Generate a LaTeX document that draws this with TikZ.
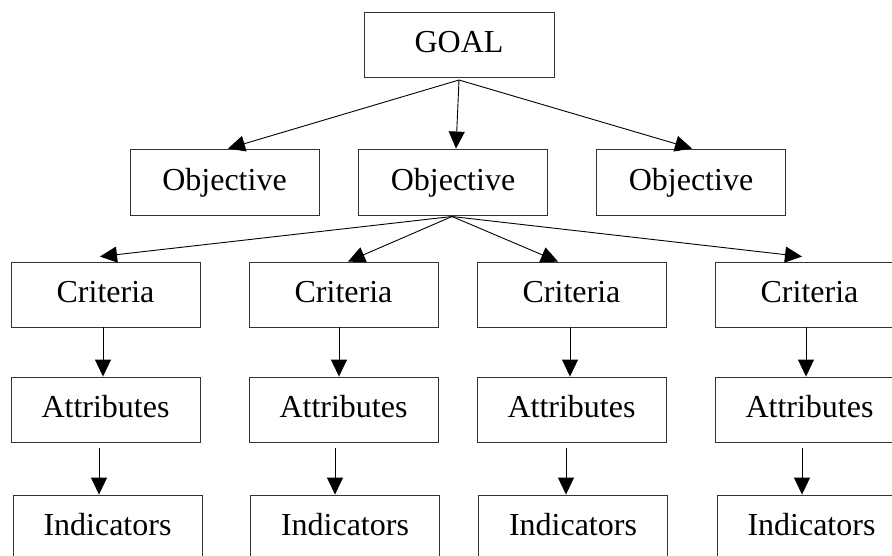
\documentclass[tikz,border=0pt]{standalone}
\usepackage{fontspec}
\setmainfont{Liberation Serif}
\usetikzlibrary{arrows.meta}
\begin{document}
\begin{tikzpicture}[x=1pt,y=-1pt,
  box/.style={draw=black!80, line width=0.9pt, inner sep=0pt, minimum width=189pt, minimum height=65pt,
    font=\fontsize{32}{36}\selectfont, text height=22pt, text depth=6pt},
  arr/.style={draw=black, line width=0.9pt, -{Triangle[length=17pt,width=16pt]}}]
\useasboundingbox (0,0) rectangle (892,555);
\clip (0,0) rectangle (892,555);
\fill[white] (0,0) rectangle (892,555);
% nodes
\node[box, minimum width=190pt] (goal) at (459,44.5) {GOAL};
\node[box, minimum height=66pt] (o1) at (224.5,182) {Objective};
\node[box, minimum height=66pt] (o2) at (453,182) {Objective};
\node[box, minimum height=66pt] (o3) at (691,182) {Objective};
\node[box] (c1) at (105.5,294.5) {Criteria};
\node[box] (c2) at (343.5,294.5) {Criteria};
\node[box] (c3) at (571.5,294.5) {Criteria};
\node[box] (c4) at (809.5,294.5) {Criteria};
\node[box] (a1) at (105.5,409.5) {Attributes};
\node[box] (a2) at (343.5,409.5) {Attributes};
\node[box] (a3) at (571.5,409.5) {Attributes};
\node[box] (a4) at (809.5,409.5) {Attributes};
\node[box] (i1) at (107.5,527.5) {Indicators};
\node[box] (i2) at (345,527.5) {Indicators};
\node[box] (i3) at (573,527.5) {Indicators};
\node[box] (i4) at (811.5,527.5) {Indicators};
% connector origins
\coordinate (gs) at (459,80);
\coordinate (os) at (452,216.5);
\draw[arr] (gs) -- ([xshift=3.5pt]o1.north);
\draw[arr] (gs) -- ([xshift=3pt]o2.north);
\draw[arr] (gs) -- ([xshift=1pt]o3.north);
\draw[arr] (os) -- ([xshift=-5.5pt,yshift=5pt]c1.north);
\draw[arr] (os) -- ([xshift=4.5pt]c2.north);
\draw[arr] (os) -- ([xshift=-13.5pt]c3.north);
\draw[arr] (os) -- ([xshift=-7.5pt,yshift=5pt]c4.north);
\foreach \k/\dx in {1/-2.5, 2/-4.5, 3/-1.5, 4/-3.5}{
  \draw[arr] ([xshift=\dx pt]c\k.south) -- ([xshift=\dx pt]a\k.north);
}
\draw[arr] ([xshift=-6.5pt,yshift=-6pt]a1.south) -- ([xshift=-8.5pt]i1.north);
\draw[arr] ([xshift=-8.5pt,yshift=-6pt]a2.south) -- ([xshift=-10pt]i2.north);
\draw[arr] ([xshift=-5.5pt,yshift=-6pt]a3.south) -- ([xshift=-7pt]i3.north);
\draw[arr] ([xshift=-7.5pt,yshift=-6pt]a4.south) -- ([xshift=-9.5pt]i4.north);
\end{tikzpicture}
\end{document}
